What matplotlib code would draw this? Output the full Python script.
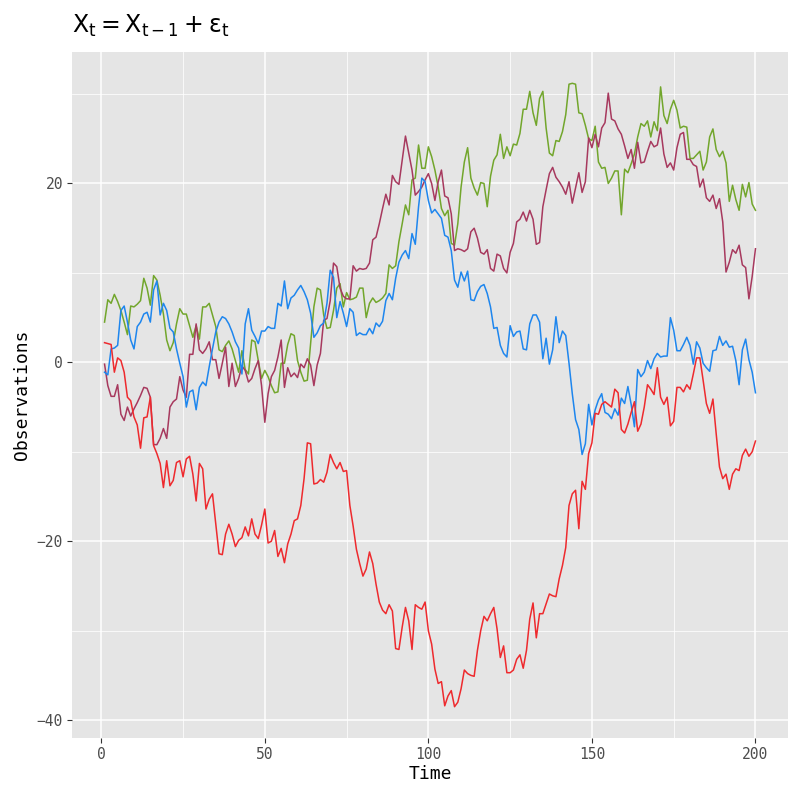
import matplotlib
matplotlib.use('Agg')
import matplotlib.pyplot as plt
import numpy as np
from matplotlib.ticker import MultipleLocator

plt.rcParams['font.family'] = ['DejaVu Sans Mono', 'DejaVu Sans']
plt.rcParams['mathtext.fontset'] = 'dejavusans'

# data: four random walks
time = np.arange(1, 201)

walk_red = [
    2.2, 2.1, 2.0, -1.1, 0.5, 0.2, -1.1, -3.9, -4.3, -6.1,
    -7.0, -9.6, -6.2, -6.1, -3.9, -9.3, -10.2, -11.3, -14.0, -11.0,
    -13.8, -13.2, -11.2, -11.0, -12.8, -10.8, -10.5, -12.5, -15.5, -11.3,
    -11.9, -16.4, -15.3, -14.7, -18.1, -21.4, -21.5, -19.2, -18.1, -19.2,
    -20.6, -19.9, -19.6, -18.4, -19.4, -17.5, -19.2, -19.7, -18.2, -16.4,
    -20.2, -20.0, -18.8, -21.7, -20.8, -22.4, -20.3, -19.2, -17.7, -17.5,
    -16.0, -13.0, -9.0, -9.1, -13.6, -13.5, -13.1, -13.4, -12.3, -10.3,
    -11.2, -11.9, -11.2, -12.2, -12.1, -16.0, -18.3, -20.9, -22.5, -23.9,
    -23.1, -21.2, -22.5, -24.8, -26.8, -27.7, -28.1, -27.1, -27.8, -32.0,
    -32.1, -29.6, -27.4, -28.9, -32.1, -27.1, -27.4, -27.6, -26.8, -30.0,
    -31.5, -34.3, -35.9, -35.7, -38.4, -37.3, -36.7, -38.5, -38.0, -36.5,
    -34.4, -34.8, -35.0, -35.1, -32.2, -30.0, -28.4, -28.9, -28.1, -27.4,
    -29.8, -33.0, -31.7, -34.7, -34.7, -34.4, -33.2, -32.7, -34.2, -32.2,
    -28.7, -26.9, -30.8, -28.1, -28.1, -27.0, -25.9, -26.1, -26.2, -24.2,
    -22.7, -20.7, -16.0, -14.7, -14.3, -18.6, -13.3, -14.2, -10.2, -9.0,
    -5.7, -5.8, -4.7, -4.4, -4.7, -5.0, -3.0, -3.4, -7.5, -7.9,
    -6.9, -5.6, -4.4, -7.7, -6.9, -5.0, -2.5, -3.0, -3.6, -0.6,
    -3.9, -4.7, -3.9, -7.1, -6.6, -2.8, -2.8, -3.3, -2.5, -3.0,
    -1.3, 0.5, 0.5, -2.0, -4.6, -5.7, -4.1, -8.0, -11.7, -13.0,
    -12.5, -14.2, -12.5, -11.9, -12.1, -10.4, -9.7, -10.5, -10.0, -8.8,
]

walk_blue = [
    -1.1, -1.4, 1.5, 1.6, 1.9, 5.8, 6.3, 4.5, 2.5, 1.5,
    4.0, 4.5, 5.4, 5.6, 4.5, 8.1, 9.1, 5.3, 6.6, 5.8,
    3.8, 3.4, 1.5, -0.1, -1.6, -5.0, -3.3, -3.1, -5.3, -2.8,
    -2.2, -2.6, -0.5, 1.5, 3.4, 4.5, 5.1, 4.9, 4.3, 3.4,
    2.3, 1.6, -1.3, 4.3, 6.0, 3.6, 2.9, 2.1, 3.5, 3.5,
    4.0, 3.8, 3.8, 6.6, 6.3, 9.1, 6.0, 7.2, 7.5, 8.1,
    8.6, 7.9, 7.0, 5.5, 2.8, 3.3, 4.1, 4.4, 6.6, 10.3,
    9.5, 5.0, 6.8, 5.5, 4.0, 6.0, 5.6, 3.0, 3.3, 3.1,
    3.1, 3.8, 3.2, 4.4, 4.0, 4.6, 6.9, 7.7, 7.0, 9.4,
    11.2, 12.0, 12.5, 11.6, 14.4, 13.2, 17.4, 20.6, 20.2, 18.1,
    16.7, 17.1, 16.6, 16.1, 14.2, 14.0, 12.5, 9.2, 8.4, 10.1,
    9.1, 10.2, 7.0, 6.9, 7.9, 8.5, 8.7, 7.7, 6.2, 3.8,
    3.9, 1.9, 1.0, 0.6, 4.1, 2.9, 3.4, 3.5, 1.5, 1.4,
    4.3, 5.3, 5.3, 4.5, 0.4, 2.7, -0.2, 1.4, 5.1, 2.2,
    3.5, 3.0, -0.1, -3.5, -6.4, -7.5, -10.3, -9.1, -4.7, -7.0,
    -5.3, -4.2, -3.5, -5.6, -5.8, -6.3, -5.2, -5.9, -4.0, -4.6,
    -2.7, -4.7, -7.2, -0.8, -1.6, -1.1, 0.2, -0.7, 0.4, 1.0,
    0.6, 0.7, 0.7, 5.0, 3.6, 1.3, 1.3, 2.0, 2.8, 1.9,
    -0.2, 2.3, 1.6, -0.1, -0.6, -1.0, 1.3, 1.4, 2.9, 1.9,
    2.4, 1.7, 1.8, 0.2, -2.5, 1.4, 2.6, 0.3, -1.1, -3.4,
]

walk_green = [
    4.5, 7.0, 6.6, 7.6, 6.8, 5.8, 4.5, 3.1, 6.3, 6.2,
    6.5, 6.9, 9.4, 8.3, 6.4, 9.7, 9.2, 7.5, 5.4, 2.5,
    1.3, 2.2, 4.3, 6.0, 5.4, 5.4, 4.1, 2.8, 4.1, 2.6,
    6.2, 6.2, 6.6, 5.3, 4.0, 1.4, 1.2, 1.9, 2.4, 1.5,
    0.2, -1.1, 1.3, -0.8, -1.3, 2.5, 2.3, 0.2, -1.8, -0.9,
    -1.6, -2.6, -3.4, -3.3, -0.1, -0.1, 2.0, 3.2, 3.0, 0.2,
    -1.1, -2.1, -2.0, 2.1, 6.2, 8.3, 8.1, 5.3, 3.8, 3.9,
    5.8, 8.3, 8.8, 6.2, 7.8, 7.0, 7.1, 7.3, 8.3, 8.3,
    5.0, 6.6, 7.2, 6.7, 6.9, 7.2, 7.7, 10.9, 10.5, 10.8,
    13.5, 15.5, 17.6, 16.5, 20.4, 20.6, 24.3, 21.7, 21.7, 24.1,
    23.0, 21.5, 19.6, 17.2, 16.4, 17.0, 13.3, 13.1, 15.5, 19.6,
    22.4, 24.0, 20.6, 19.5, 18.7, 20.1, 20.0, 17.4, 20.8, 22.6,
    23.2, 25.5, 22.8, 24.1, 23.1, 24.4, 24.3, 25.6, 28.3, 28.3,
    30.3, 27.9, 26.5, 29.5, 30.3, 26.2, 23.4, 23.1, 24.8, 24.7,
    25.8, 27.7, 31.1, 31.2, 31.1, 27.9, 27.8, 26.5, 25.0, 24.8,
    26.4, 22.4, 21.7, 21.8, 20.0, 20.6, 21.4, 21.4, 16.5, 21.6,
    21.2, 22.2, 23.3, 25.2, 26.7, 26.4, 27.0, 25.2, 26.9, 25.9,
    30.8, 27.6, 26.7, 28.3, 29.3, 28.2, 26.2, 26.4, 26.3, 22.8,
    22.8, 23.2, 23.6, 21.5, 22.4, 25.2, 26.1, 23.8, 23.0, 23.6,
    22.3, 18.0, 19.8, 18.2, 17.0, 19.9, 18.5, 20.1, 17.7, 17.0,
]

walk_maroon = [
    -0.2, -2.6, -3.8, -3.8, -2.5, -5.8, -6.5, -5.0, -6.0, -5.2,
    -4.5, -3.7, -2.8, -2.9, -3.9, -9.2, -9.2, -8.5, -7.4, -8.5,
    -5.0, -4.4, -4.1, -1.6, -3.1, -3.9, 0.9, 0.9, 4.3, 1.4,
    1.0, 1.5, 2.3, 0.3, 0.3, -1.8, -0.1, 1.7, -2.7, -0.1,
    -2.7, -1.8, -0.4, -0.9, -2.2, -1.8, -0.7, 0.2, -2.6, -6.7,
    -3.5, -1.6, -0.9, 0.6, 2.5, -2.8, -0.6, -1.6, -1.2, -1.7,
    -0.2, -0.6, 0.4, -0.3, -2.6, -0.3, 1.0, 4.7, 4.9, 6.9,
    11.1, 10.7, 8.3, 7.4, 7.1, 7.1, 10.8, 10.2, 10.5, 10.4,
    10.5, 11.1, 13.7, 14.0, 15.5, 17.2, 18.8, 17.6, 20.9, 20.2,
    19.9, 22.6, 25.3, 23.4, 21.5, 18.7, 19.1, 19.6, 20.4, 21.1,
    20.0, 18.1, 20.2, 21.5, 18.6, 18.4, 16.6, 12.5, 12.7, 12.6,
    12.4, 12.7, 14.6, 15.0, 13.9, 12.3, 12.1, 12.6, 10.5, 10.2,
    12.1, 11.9, 10.5, 10.0, 12.3, 13.3, 15.7, 16.0, 16.8, 15.8,
    17.0, 16.0, 13.2, 13.4, 17.4, 19.3, 21.1, 21.8, 20.7, 20.2,
    19.6, 18.8, 20.2, 17.8, 19.5, 21.2, 19.0, 20.2, 25.1, 24.0,
    25.5, 24.1, 26.2, 26.8, 30.1, 27.2, 27.0, 26.1, 25.5, 24.2,
    22.8, 23.8, 21.7, 24.6, 22.3, 22.4, 23.6, 24.7, 24.1, 24.3,
    26.2, 23.3, 21.8, 22.3, 21.5, 24.0, 25.5, 25.7, 22.7, 22.7,
    22.1, 21.9, 19.6, 20.5, 18.4, 18.0, 18.7, 17.2, 18.3, 15.7,
    10.1, 11.2, 12.6, 12.2, 13.1, 10.9, 10.6, 7.1, 9.6, 12.7,
]

series = [walk_green, walk_maroon, walk_blue, walk_red]
colors = ['#72A62C', '#A7395E', '#1E86EE', '#EE2A2E']

fig = plt.figure(figsize=(8, 8), dpi=100)
ax = fig.add_axes([0.09, 0.0775, 0.895, 0.8575])
ax.set_facecolor('#E5E5E5')

for vals, c in zip(series, colors):
    ax.plot(time, vals, color=c, lw=1.1)

# ggplot-like limits (5% expansion)
ax.set_xlim(-8.95, 209.95)
ax.set_ylim(-42.0, 34.7)
ax.xaxis.set_major_locator(MultipleLocator(50))
ax.xaxis.set_minor_locator(MultipleLocator(25))
ax.yaxis.set_major_locator(MultipleLocator(20))
ax.yaxis.set_minor_locator(MultipleLocator(10))
ax.yaxis.set_major_formatter(plt.FuncFormatter(lambda v, p: f'{v:.0f}'.replace('-', '\u2212')))

ax.grid(which='major', color='white', lw=1.1)
ax.grid(which='minor', color='white', lw=0.55)
ax.set_axisbelow(True)
for s in ax.spines.values():
    s.set_visible(False)

ax.tick_params(which='major', length=3.5, width=0.8, color='#333333',
               labelcolor='#4D4D4D', labelsize=10.5, pad=3)
ax.tick_params(which='minor', length=0)

ax.set_xlabel('Time', fontsize=13, labelpad=2)
ax.set_ylabel('Observations', fontsize=13, labelpad=4)

fig.text(0.09, 0.968, r'$\mathrm{X_t = X_{t-1} + \varepsilon_t}$',
         fontsize=17, ha='left', va='center')

fig.savefig('out.png', dpi=100)
